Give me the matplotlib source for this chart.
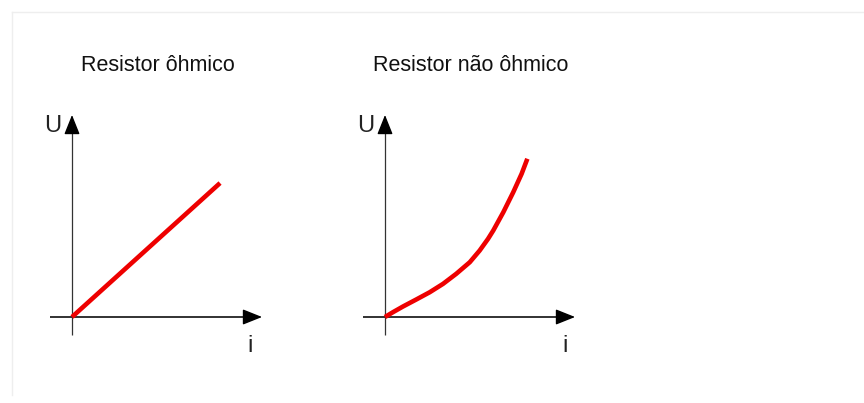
import matplotlib
matplotlib.use("Agg")
import matplotlib.pyplot as plt
from matplotlib.lines import Line2D

plt.rcParams['font.family'] = ['Liberation Sans', 'DejaVu Sans']

# Panel titles and axis labels
titles = ["Resistor ôhmico", "Resistor não ôhmico"]
y_label = "U"
x_label = "i"

# Ohmic resistor: U proportional to i
ohmic_i = [0.0, 9.87]
ohmic_u = [0.0, 8.93]

# Non-ohmic resistor: U grows faster than i
nonohmic_i = [0.0, 0.53, 1.20, 2.09, 2.98, 3.87, 4.75, 5.65, 6.31, 6.87, 7.22,
              7.89, 8.55, 9.11, 9.49]
nonohmic_u = [0.0, 0.32, 0.70, 1.17, 1.65, 2.21, 2.88, 3.65, 4.43, 5.21, 5.77,
              6.99, 8.32, 9.55, 10.55]

curves = [(ohmic_i, ohmic_u), (nonohmic_i, nonohmic_u)]

W, H = 864, 403
fig = plt.figure(figsize=(W / 100, H / 100), dpi=100)
fig.patch.set_facecolor("white")

# faint frame at top and left
fig.add_artist(Line2D([12 / W, 1.0], [1 - 12 / H, 1 - 12 / H], color="#eeeeee", lw=1))
fig.add_artist(Line2D([12 / W, 12 / W], [1 - 12 / H, 8 / H], color="#eeeeee", lw=1))

scale = 15.0  # pixels per data unit
lefts = [40, 353]
origins_x = [72, 385]
origin_y = 317
top_px, bot_px = 100, 365
width_px = 240

for k, (xs, ys) in enumerate(curves):
    left = lefts[k]
    ax = fig.add_axes([left / W, (H - bot_px) / H, width_px / W, (bot_px - top_px) / H])
    ax.set_xlim((left - origins_x[k]) / scale, (left + width_px - origins_x[k]) / scale)
    ax.set_ylim((origin_y - bot_px) / scale, (origin_y - top_px) / scale)
    ax.axis("off")

    # axes with arrowheads
    ax.plot([-1.47, 12.0], [0, 0], color="#222222", lw=1.3, solid_capstyle="butt")
    ax.annotate("", xy=(12.67, 0), xytext=(11.5, 0),
                arrowprops=dict(arrowstyle="-|>,head_length=0.8,head_width=0.32",
                                mutation_scale=15, color="black", lw=1.0,
                                shrinkA=0, shrinkB=0))
    ax.plot([0, 0], [-1.2, 12.8], color="#333333", lw=0.9, solid_capstyle="butt")
    ax.annotate("", xy=(0, 13.47), xytext=(0, 12.3),
                arrowprops=dict(arrowstyle="-|>,head_length=0.8,head_width=0.32",
                                mutation_scale=15, color="black", lw=1.0,
                                shrinkA=0, shrinkB=0))

    ax.plot(xs, ys, color="#ee0000", lw=3.3, solid_capstyle="butt",
            solid_joinstyle="round", zorder=5)

    ax.text(-1.3, 12.75, y_label, fontsize=17, ha="center", va="center", color="#222222")
    ax.text(11.9 if k == 0 else 12.0, -1.9, x_label, fontsize=17, ha="center", va="center",
            color="#222222")
    ax.text(5.73, 16.75, titles[k], fontsize=15.5, ha="center", va="center",
            color="#111111", clip_on=False)

fig.savefig("out.png", dpi=100, facecolor="white")
